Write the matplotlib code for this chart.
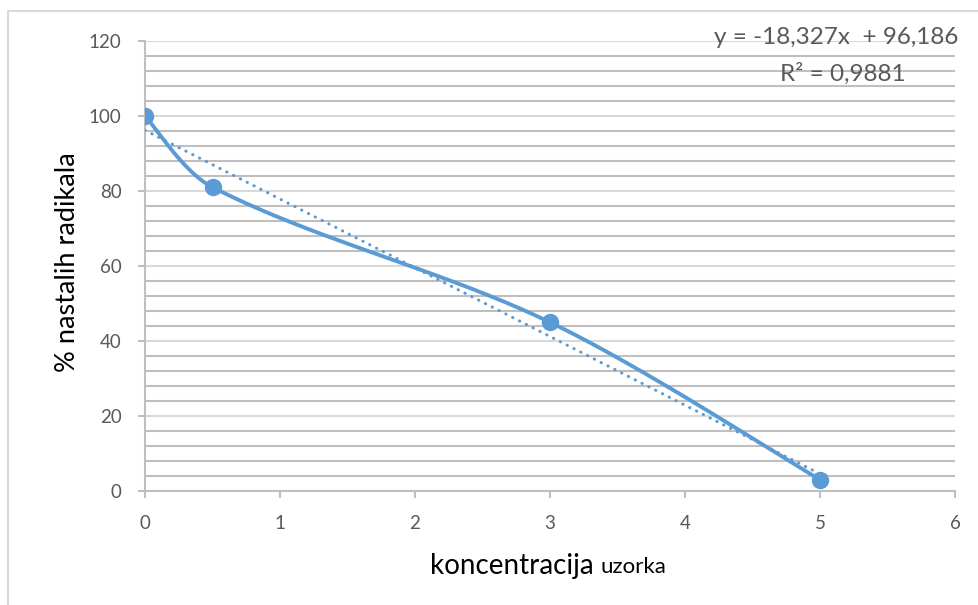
import numpy as np
import matplotlib
matplotlib.use('agg')
import matplotlib.pyplot as plt
from matplotlib.patches import Rectangle

# data
conc = [0, 0.5, 3, 5]
radicals = [100, 81, 45, 3]
slope = -18.327
intercept = 96.186
r2_text = '0,9881'
xticks = [0, 1, 2, 3, 4, 5, 6]
yticks = [0, 20, 40, 60, 80, 100, 120]

blue = '#5B9BD5'
grey_txt = '#595959'


def smooth_curve(xs, ys, sx, sy, n=60):
    # bezier smoothing, tangents from neighbours, scaled by segment lengths (screen units)
    pts = np.column_stack((np.array(xs, float) * sx, np.array(ys, float) * sy))
    m = len(pts)
    tang = []
    for i in range(m):
        a = pts[max(i - 1, 0)]
        b = pts[min(i + 1, m - 1)]
        tang.append(b - a)
    seglen = [np.hypot(*(pts[i + 1] - pts[i])) for i in range(m - 1)]
    out = []
    for i in range(m - 1):
        p1, p2 = pts[i], pts[i + 1]
        d = seglen[i]
        dprev = seglen[i - 1] if i > 0 else d
        dnext = seglen[i + 1] if i + 1 < m - 1 else d
        f1 = d / (dprev + d) / 3.0 if i > 0 else 1 / 6.0
        f2 = d / (d + dnext) / 3.0 if i + 1 < m - 1 else 1 / 6.0
        c1 = p1 + tang[i] * f1
        c2 = p2 - tang[i + 1] * f2
        t = np.linspace(0, 1, n)[:, None]
        seg = (1 - t)**3 * p1 + 3 * (1 - t)**2 * t * c1 + 3 * (1 - t) * t**2 * c2 + t**3 * p2
        out.append(seg)
    curve = np.vstack(out)
    return curve[:, 0] / sx, curve[:, 1] / sy


plt.rcParams['font.family'] = ['Lato', 'DejaVu Sans']

fig = plt.figure(figsize=(9.79, 6.05), dpi=100)
fig.patches.append(Rectangle((8 / 979, -0.1), 1.2, (605 - 11) / 605 + 0.1,
                             transform=fig.transFigure, fill=False,
                             edgecolor='#d9d9d9', linewidth=1.5))
ax = fig.add_axes([145 / 979, (605 - 491) / 605, 810 / 979, 450 / 605])

# minor + major horizontal gridlines
for yv in np.arange(0, 121, 4):
    if yv % 20 == 0:
        ax.axhline(yv, color='#d9d9d9', lw=1.5, zorder=1)
    else:
        ax.axhline(yv, color='#bfbfbf', lw=1.5, zorder=1)

# trend line (dotted)
xt = np.array([conc[0], conc[-1]])
ax.plot(xt, slope * xt + intercept, color=blue, lw=2.2, ls=(0, (0.1, 2.4)),
        dash_capstyle='round', zorder=3)

# smoothed series
cx, cy = smooth_curve(conc, radicals, 135.0, 3.75)
ax.plot(cx, cy, color=blue, lw=2.8, zorder=4, solid_capstyle='round')
ax.plot(conc, radicals, 'o', color=blue, ms=11.5, zorder=5)

ax.set_xlim(0, 6)
ax.set_ylim(0, 120)
ax.set_xticks(xticks)
ax.set_yticks(yticks)
ax.tick_params(axis='both', colors='#bfbfbf', length=5, width=1.5,
               labelcolor=grey_txt, labelsize=13.5)
ax.tick_params(axis='x', pad=12)
ax.tick_params(axis='y', pad=12)
for s in ['top', 'right']:
    ax.spines[s].set_visible(False)
for s in ['left', 'bottom']:
    ax.spines[s].set_color('#bfbfbf')
    ax.spines[s].set_linewidth(1.5)

fig.text(68 / 979, 1 - 262 / 605, '% nastalih radikala', rotation=90,
         ha='center', va='center', fontsize=19.5, color='black')
fig.text(594 / 979, 1 - 566 / 605, 'koncentracija', ha='right', va='center',
         fontsize=20, color='black')
fig.text(600 / 979, 1 - 567 / 605, 'uzorka', ha='left', va='center',
         fontsize=16, color='black')

fig.text(958 / 979, 1 - 37 / 605, 'y = -18,327x  + 96,186', ha='right', va='center',
         fontsize=17.5, color=grey_txt)
fig.text(843 / 979, 1 - 74 / 605, 'R² = ' + r2_text, ha='center', va='center',
         fontsize=17.5, color=grey_txt)

fig.savefig('out.png', dpi=100)
